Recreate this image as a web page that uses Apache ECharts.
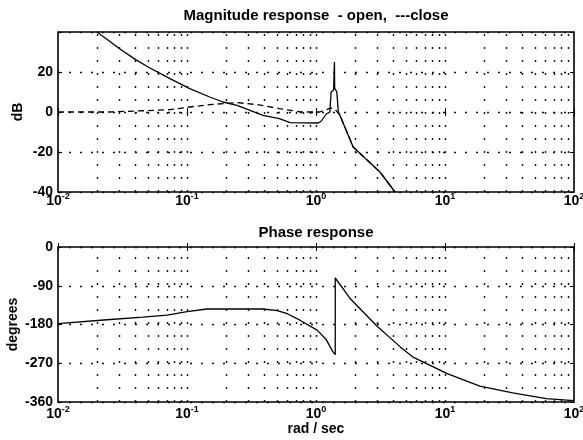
<!DOCTYPE html>
<html>
<head>
<meta charset="utf-8">
<script src="https://cdn.jsdelivr.net/npm/echarts@6/dist/echarts.min.js"></script>
<style>
html, body { margin: 0; padding: 0; background: #fff; }
#chart { width: 583px; height: 440px; }
</style>
</head>
<body>
<div id="chart"></div>
<script>
// magnitude, open loop (solid)
const openFreq = [0.02, 0.025, 0.03, 0.04, 0.05, 0.0738, 0.105, 0.15, 0.19, 0.244, 0.308, 0.388, 0.52, 0.63, 1.04, 1.1, 1.2, 1.28, 1.31, 1.37, 1.385, 1.39, 1.395, 1.45, 1.49, 1.535, 1.94, 3.13, 4.1];
const openDb   = [40, 35.5, 31.6, 26.2, 22.5, 16.7, 11.7, 7.5, 5, 3.3, 0.8, -1.7, -3.3, -5.3, -5.5, -4.5, -1, 0, 10, 11, 12, 25, 12, 10, 0, -1.7, -17.5, -30, -40];

// magnitude, closed loop (dashed)
const closeFreq = [0.01, 0.025, 0.05, 0.0738, 0.105, 0.15, 0.244, 0.35, 0.52, 0.77, 1.07, 1.22, 1.3, 1.4, 1.535, 1.94, 3.13, 4.1];
const closeDb   = [0, 0, 0.7, 1.2, 2.5, 3.7, 4.7, 3.7, 1.7, 0, 0, 1.3, 2, 1.5, -1.7, -17.5, -30, -40];

// phase
const phaseFreq = [0.01, 0.024, 0.0456, 0.07, 0.1, 0.143, 0.389, 0.5, 0.6, 0.75, 1.02, 1.2, 1.35, 1.41, 1.41, 1.83, 2.95, 4.5, 5.6, 10.4, 18.6, 33.5, 61, 100];
const phaseDeg  = [-178, -169, -163, -158, -150, -144, -144, -148, -155, -170, -193, -215, -243, -250, -72, -119, -183, -232, -255, -294, -323, -339, -352, -357];

// axes
const freqMin = 0.01, freqMax = 100;
const magMin = -40, magMax = 40, magStep = 20;
const phaseMin = -360, phaseMax = 0, phaseStep = 90;

// dotted vertical grid at 2..9 of each decade (and decades themselves)
const decades = [0.01, 0.1, 1, 10];
const gridFreqs = [];
decades.forEach(d => {
  for (let m = 1; m <= 9; m++) {
    if (d * m > freqMin) gridFreqs.push(+(d * m).toPrecision(3));
  }
});

const font = 'Liberation Sans, Arial, sans-serif';
const dotted = { color: '#111', width: 1.4, type: [2, 9] };

const zip = (xs, ys) => xs.map((x, i) => [x, ys[i]]);

const logLabel = margin => ({
  color: '#000',
  fontFamily: font,
  margin: margin,
  formatter: v => '{b|10}{s|' + Math.round(Math.log10(v)) + '}',
  rich: {
    b: { fontSize: 14, fontWeight: 'bold', fontFamily: font, lineHeight: 18 },
    s: { fontSize: 9, fontWeight: 'bold', fontFamily: font, verticalAlign: 'top', lineHeight: 10 }
  }
});

const gridLines = () => ({
  silent: true,
  symbol: ['none', 'none'],
  label: { show: false },
  animation: false,
  lineStyle: { color: '#111', width: 1.4, type: [2, 11] },
  data: gridFreqs.map(f => ({ xAxis: f }))
});

const xAxisBase = (gridIndex, name, margin) => ({
  type: 'log',
  logBase: 10,
  gridIndex: gridIndex,
  min: freqMin,
  max: freqMax,
  axisLine: { show: false },
  axisTick: { show: true, inside: true, length: 4, lineStyle: { color: '#000' } },
  splitLine: { show: false },
  axisLabel: logLabel(margin),
  name: name,
  nameLocation: 'middle',
  nameGap: 17,
  nameTextStyle: { fontSize: 14, fontWeight: 'bold', fontFamily: font, color: '#000' }
});

const xAxisTop = gridIndex => ({
  type: 'log',
  logBase: 10,
  gridIndex: gridIndex,
  position: 'top',
  min: freqMin,
  max: freqMax,
  axisLine: { show: false },
  axisTick: { show: true, inside: true, length: 4, lineStyle: { color: '#000' } },
  axisLabel: { show: false },
  splitLine: { show: false }
});

const yAxisBase = (gridIndex, min, max, step, name, gap, hideTop) => ({
  type: 'value',
  gridIndex: gridIndex,
  min: min,
  max: max,
  interval: step,
  axisLine: { show: false },
  axisTick: { show: true, inside: true, length: 4, lineStyle: { color: '#000' } },
  splitLine: { show: true, lineStyle: dotted },
  axisLabel: {
    color: '#000', fontSize: 14, fontWeight: 'bold', fontFamily: font, margin: 5,
    formatter: v => (hideTop && v === max) ? '' : String(v)
  },
  name: name,
  nameLocation: 'middle',
  nameGap: gap,
  nameMoveOverlap: false,
  nameTextStyle: { fontSize: 14, fontWeight: 'bold', fontFamily: font, color: '#000' }
});

const yAxisRight = (gridIndex, min, max, step) => ({
  type: 'value',
  gridIndex: gridIndex,
  position: 'right',
  min: min,
  max: max,
  interval: step,
  axisLine: { show: false },
  axisTick: { show: true, inside: true, length: 4, lineStyle: { color: '#000' } },
  axisLabel: { show: false },
  splitLine: { show: false }
});

const chart = echarts.init(document.getElementById('chart'));
chart.setOption({
  animation: false,
  backgroundColor: '#fff',
  title: [
    {
      text: 'Magnitude response  - open,  ---close',
      left: 311, top: 3, textAlign: 'center',
      textStyle: { fontSize: 15, fontWeight: 'bold', fontFamily: font, color: '#000' }
    },
    {
      text: 'Phase response',
      left: 311, top: 220, textAlign: 'center',
      textStyle: { fontSize: 15, fontWeight: 'bold', fontFamily: font, color: '#000' }
    }
  ],
  grid: [
    { left: 58, right: 9, top: 32, height: 160, outerBoundsMode: 'none', containLabel: false, show: true, borderColor: '#000', borderWidth: 1.6, backgroundColor: 'transparent' },
    { left: 58, right: 9, top: 247, height: 155, outerBoundsMode: 'none', containLabel: false, show: true, borderColor: '#000', borderWidth: 1.6, backgroundColor: 'transparent' }
  ],
  xAxis: [
    xAxisBase(0, '', 0),
    xAxisBase(1, 'rad / sec', 3),
    xAxisTop(0),
    xAxisTop(1)
  ],
  yAxis: [
    yAxisBase(0, magMin, magMax, magStep, 'dB', 33, true),
    yAxisBase(1, phaseMin, phaseMax, phaseStep, 'degrees', 38, false),
    yAxisRight(0, magMin, magMax, magStep),
    yAxisRight(1, phaseMin, phaseMax, phaseStep)
  ],
  series: [
    {
      name: 'open',
      type: 'line',
      xAxisIndex: 0, yAxisIndex: 0,
      data: zip(openFreq, openDb),
      showSymbol: false,
      lineStyle: { color: '#000', width: 1.3 },
      markLine: gridLines()
    },
    {
      name: 'close',
      type: 'line',
      xAxisIndex: 0, yAxisIndex: 0,
      data: zip(closeFreq, closeDb),
      showSymbol: false,
      lineStyle: { color: '#000', width: 1.3, type: [6, 4] }
    },
    {
      name: 'phase',
      type: 'line',
      xAxisIndex: 1, yAxisIndex: 1,
      data: zip(phaseFreq, phaseDeg),
      showSymbol: false,
      lineStyle: { color: '#000', width: 1.3 },
      markLine: gridLines()
    }
  ]
});
</script>
</body>
</html>
